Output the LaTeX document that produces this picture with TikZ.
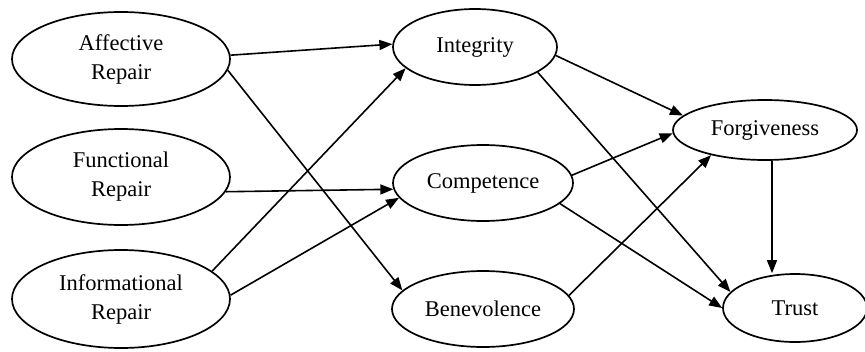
\documentclass[tikz,border=0pt]{standalone}
\usepackage{fontspec}
\setmainfont{Liberation Serif}
\usetikzlibrary{arrows.meta,shapes.geometric}
\begin{document}
\begin{tikzpicture}[x=1pt,y=1pt,
  construct/.style={draw, ellipse, line width=1.7pt, inner sep=0pt, align=center,
    font=\fontsize{22.5}{29}\selectfont},
  arr/.style={-{Triangle[length=13pt,width=10pt]}, line width=1.6pt}]
\useasboundingbox (0,0) rectangle (865,-351);
% left column
\node[construct, minimum width=218pt, minimum height=94pt] (aff) at (121,-59) {Affective\\Repair};
\node[construct, minimum width=218pt, minimum height=96pt] (fun) at (121,-177) {Functional\\Repair};
\node[construct, minimum width=218pt, minimum height=98pt] (inf) at (121,-299) {Informational\\Repair};
% middle column
\node[construct, minimum width=164pt, minimum height=76pt] (int) at (475,-47) {Integrity};
\node[construct, minimum width=180pt, minimum height=76pt] (com) at (483,-183) {Competence};
\node[construct, minimum width=182pt, minimum height=76pt] (ben) at (483,-309) {Benevolence};
% right column
\node[construct, minimum width=184pt, minimum height=60pt] (for) at (765,-130) {Forgiveness};
\node[construct, minimum width=144pt, minimum height=68pt] (tru) at (795,-308) {Trust};
% connectors
\draw[arr] (aff.2) -- (int.178);
\draw[arr] (aff.-6) -- (ben.167);
\draw[arr] (fun.-8) -- (com.184);
\draw[arr] (inf.17) -- (int.-163);
\draw[arr] (inf.2) -- (com.-170);
\draw[arr] (int.-6) -- (for.170);
\draw[arr] (int.-22) -- (tru.166);
\draw[arr] (com.5) -- (for.182);
\draw[arr] (com.-15) -- (tru.180);
\draw[arr] (ben.9) -- (for.-155);
\draw[arr] ([xshift=7pt]for.south) -- ([xshift=7pt]for.south |- tru.north);
\end{tikzpicture}
\end{document}
